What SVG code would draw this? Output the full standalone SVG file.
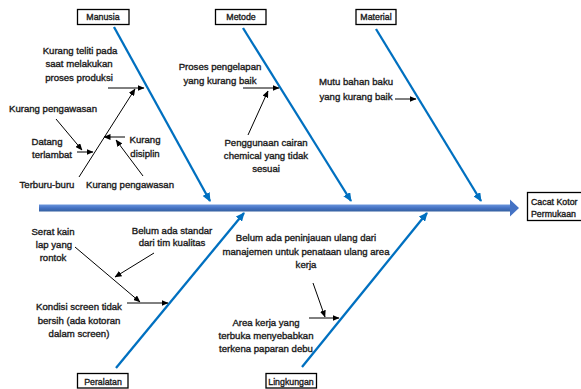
<svg xmlns="http://www.w3.org/2000/svg" width="581" height="389" viewBox="0 0 581 389">
<style>
text{font-family:"Liberation Sans",Arial,sans-serif;font-size:9.6px;fill:#1a1a1a;stroke:#1a1a1a;stroke-width:0.35;text-anchor:middle}
.box{fill:#fff;stroke:#000;stroke-width:1.3}
.lbl{font-size:8.8px}
.bone{stroke:#0070C0;stroke-width:2.3;fill:none;marker-end:url(#ab)}
.sub{stroke:#000;stroke-width:1;fill:none;marker-end:url(#ak)}
</style>
<defs>
<marker id="ab" markerUnits="userSpaceOnUse" markerWidth="9" markerHeight="8" refX="8" refY="4" orient="auto"><path d="M0,0 L9,4 L0,8 z" fill="#0070C0"/></marker>
<marker id="ak" markerUnits="userSpaceOnUse" markerWidth="7" markerHeight="6" refX="6.5" refY="3" orient="auto"><path d="M0,0 L7,3 L0,6 z" fill="#000"/></marker>
<linearGradient id="sp" x1="0" y1="0" x2="0" y2="1"><stop offset="0" stop-color="#6A95DC"/><stop offset="0.5" stop-color="#4472C4"/><stop offset="1" stop-color="#35609F"/></linearGradient>
</defs>
<rect width="581" height="389" fill="#fff"/>
<g id="connectors">
<rect x="39" y="204.5" width="472" height="7" fill="url(#sp)"/>
<polygon points="510,199.5 519,208 510,216.5" fill="#4472C4"/>
<line class="bone" x1="114" y1="27" x2="210" y2="201"/>
<line class="bone" x1="243" y1="28" x2="351" y2="201"/>
<line class="bone" x1="376" y1="29" x2="481" y2="201"/>
<line class="bone" x1="116" y1="368" x2="244" y2="213"/>
<line class="bone" x1="302" y1="367" x2="427" y2="213"/>
<line class="sub" x1="79" y1="177" x2="135" y2="89"/>
<line class="sub" x1="108" y1="88" x2="144" y2="88"/>
<line class="sub" x1="56" y1="119" x2="82" y2="150"/>
<line class="sub" x1="77" y1="152" x2="93" y2="152"/>
<line class="sub" x1="125" y1="137" x2="104" y2="137"/>
<line class="sub" x1="143" y1="176" x2="116" y2="140"/>
<line class="sub" x1="243" y1="88" x2="279" y2="88"/>
<line class="sub" x1="248" y1="135" x2="268" y2="91"/>
<line class="sub" x1="395" y1="99" x2="416" y2="99"/>
<line class="sub" x1="75" y1="247" x2="140" y2="302"/>
<line class="sub" x1="154" y1="253" x2="115" y2="277"/>
<line class="sub" x1="127" y1="303" x2="168" y2="303"/>
<line class="sub" x1="313" y1="283" x2="325" y2="317"/>
<line class="sub" x1="309" y1="318" x2="339" y2="318"/>
</g>
<g id="manusia"><rect class="box" x="77.5" y="9.5" width="51.5" height="15"/><text class="lbl" x="103" y="20">Manusia</text></g>
<g id="metode"><rect class="box" x="215.5" y="9.5" width="50.5" height="15"/><text class="lbl" x="241" y="20">Metode</text></g>
<g id="material"><rect class="box" x="356" y="9.5" width="40" height="15"/><text class="lbl" x="376" y="20">Material</text></g>
<g id="peralatan"><rect class="box" x="77.5" y="373.5" width="50.5" height="14.5"/><text class="lbl" x="103" y="384.5">Peralatan</text></g>
<g id="lingkungan"><rect class="box" x="266" y="373.5" width="50.5" height="14.5"/><text class="lbl" x="291" y="384.5">Lingkungan</text></g>
<g id="effect"><rect class="box" x="527.5" y="192.5" width="60" height="28"/><text class="lbl" x="531" y="205" style="text-anchor:start">Cacat Kotor</text><text class="lbl" x="531" y="217" style="text-anchor:start">Permukaan</text></g>
<g id="c-teliti"><text x="80" y="54">Kurang teliti pada</text><text x="79" y="67">saat melakukan</text><text x="79" y="80.5">proses produksi</text></g>
<g id="c-pengawasan1"><text x="53" y="112">Kurang pengawasan</text></g>
<g id="c-datang"><text x="47" y="145">Datang</text><text x="52" y="158">terlambat</text></g>
<g id="c-disiplin"><text x="145" y="143">Kurang</text><text x="145" y="157">disiplin</text></g>
<g id="c-terburu"><text x="47" y="188">Terburu-buru</text></g>
<g id="c-pengawasan2"><text x="130" y="188">Kurang pengawasan</text></g>
<g id="c-pengelapan"><text x="220" y="70">Proses pengelapan</text><text x="220" y="84">yang kurang baik</text></g>
<g id="c-cairan"><text x="266" y="146">Penggunaan cairan</text><text x="266" y="159">chemical yang tidak</text><text x="266" y="172">sesuai</text></g>
<g id="c-mutu"><text x="356" y="85">Mutu bahan baku</text><text x="356" y="100">yang kurang baik</text></g>
<g id="c-serat"><text x="53" y="235">Serat kain</text><text x="54" y="248">lap yang</text><text x="53" y="261">rontok</text></g>
<g id="c-standar"><text x="172" y="234">Belum ada standar</text><text x="172" y="246">dari tim kualitas</text></g>
<g id="c-screen"><text x="79" y="310">Kondisi screen tidak</text><text x="79" y="324">bersih (ada kotoran</text><text x="79" y="337">dalam screen)</text></g>
<g id="c-peninjauan"><text x="306" y="241">Belum ada peninjauan ulang dari</text><text x="306" y="255">manajemen untuk penataan ulang area</text><text x="306" y="268">kerja</text></g>
<g id="c-area"><text x="266" y="326">Area kerja yang</text><text x="266" y="339">terbuka menyebabkan</text><text x="266" y="352">terkena paparan debu</text></g>
</svg>
